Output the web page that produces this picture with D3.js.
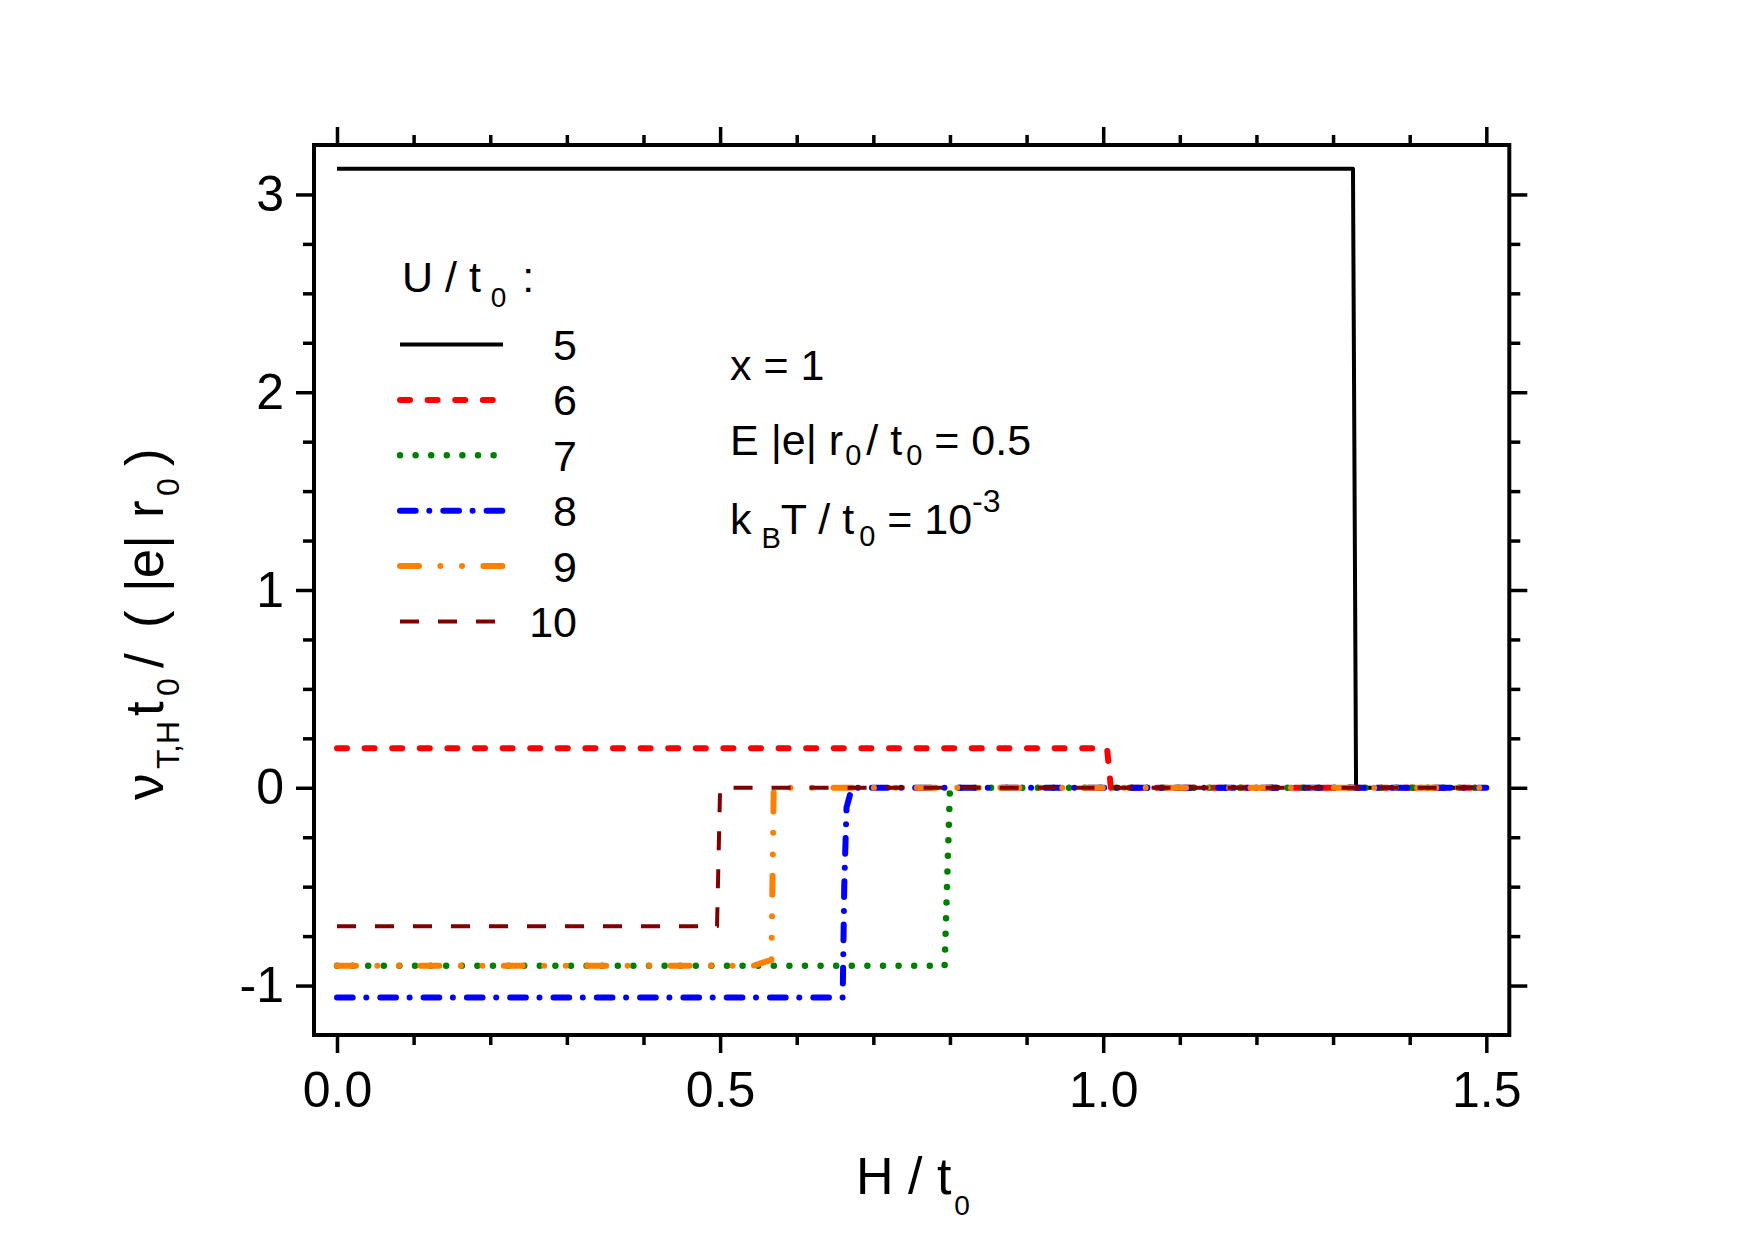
<!DOCTYPE html>
<html>
<head>
<meta charset="utf-8">
<script src="https://cdn.jsdelivr.net/npm/d3@7"></script>
<style>
  html, body { margin: 0; padding: 0; background: #fff; }
  svg { display: block; }
  text { font-family: "Liberation Sans", Arial, sans-serif; fill: #000; }
</style>
</head>
<body>
<svg id="chart" width="1755" height="1242"></svg>
<script>
// ---------------- data ----------------
const seriesLabels = ["5", "6", "7", "8", "9", "10"];
const h5  = [0, 1.326, 1.330, 1.5];
const v5  = [3.13, 3.13, 0, 0];
const h6  = [0, 1.005, 1.010, 1.5];
const v6  = [0.2, 0.2, 0, 0];
const h7  = [0, 0.793, 0.800, 1.5];
const v7  = [-0.9, -0.9, 0, 0];
const h8  = [0, 0.660, 0.662, 0.665, 0.672, 1.5];
const v8  = [-1.06, -1.06, -0.5, -0.1, 0, 0];
const h9  = [0, 0.543, 0.567, 0.570, 1.5];
const v9  = [-0.9, -0.9, -0.87, 0, 0];
const h10 = [0, 0.496, 0.500, 1.5];
const v10 = [-0.7, -0.7, 0, 0];
const xMajorTicks = [0, 0.5, 1.0, 1.5];
const xTickLabels = ["0.0", "0.5", "1.0", "1.5"];
const yMajorTicks = [-1, 0, 1, 2, 3];
const yTickLabels = ["-1", "0", "1", "2", "3"];

// ---------------- styles ----------------
const styles = [
  { color: "#000000", width: 4, dash: null, cap: "butt" },
  { color: "#ff0000", width: 6, dash: "10 17.6", cap: "round" },
  { color: "#008000", width: 6.5, dash: "0 15.6", cap: "round" },
  { color: "#0000ff", width: 6, dash: "15.7 13.6 0 14", cap: "round" },
  { color: "#ff8000", width: 6, dash: "19 21.4 0 21.6 0 21.4", cap: "round" },
  { color: "#800000", width: 4, dash: "19 19", cap: "butt" }
];
const seriesH = [h5, h6, h7, h8, h9, h10];
const seriesV = [v5, v6, v7, v8, v9, v10];

const svg = d3.select("#chart");
const L = 314, R = 1509.3, T = 145, B = 1035;
const x = d3.scaleLinear().domain([-0.03, 1.53]).range([L, R]);
const y = d3.scaleLinear().domain([-1.25, 3.25]).range([B, T]);

const xMinor = d3.range(0, 1.5001, 0.1).map(v => +v.toFixed(2)).filter(v => !xMajorTicks.some(m => Math.abs(m - v) < 1e-9));
const yMinor = d3.range(-1, 3.0001, 0.25).map(v => +v.toFixed(2)).filter(v => !yMajorTicks.some(m => Math.abs(m - v) < 1e-9));

// ---------------- lines ----------------
const line = d3.line().x(d => x(d[0])).y(d => y(d[1]));
const plot = svg.append("g");
seriesH.forEach((hs, i) => {
  const pts = hs.map((h, j) => [h, seriesV[i][j]]);
  const st = styles[i];
  plot.append("path")
    .attr("d", line(pts))
    .attr("fill", "none")
    .attr("stroke", st.color)
    .attr("stroke-width", st.width)
    .attr("stroke-linecap", st.cap)
    .attr("stroke-linejoin", "round")
    .attr("stroke-dasharray", st.dash);
});

// ---------------- axes ----------------
function styleAxis(g, fontSize) {
  g.select(".domain").remove();
  g.selectAll(".tick line").attr("stroke", "#000").attr("stroke-width", 3.5);
  g.selectAll(".tick text").attr("font-size", fontSize).attr("fill", "#000")
    .style("font-family", '"Liberation Sans", Arial, sans-serif');
}
const fmtX = d => xTickLabels[xMajorTicks.indexOf(d)];
const fmtY = d => yTickLabels[yMajorTicks.indexOf(d)];

svg.append("g").attr("transform", `translate(0,${B})`)
  .call(d3.axisBottom(x).tickValues(xMajorTicks).tickFormat(fmtX).tickSize(18).tickPadding(18))
  .call(g => styleAxis(g, 50));
svg.append("g").attr("transform", `translate(0,${B})`)
  .call(d3.axisBottom(x).tickValues(xMinor).tickFormat("").tickSize(10))
  .call(g => styleAxis(g, 50));
svg.append("g").attr("transform", `translate(0,${T})`)
  .call(d3.axisTop(x).tickValues(xMajorTicks).tickFormat("").tickSize(18))
  .call(g => styleAxis(g, 50));
svg.append("g").attr("transform", `translate(0,${T})`)
  .call(d3.axisTop(x).tickValues(xMinor).tickFormat("").tickSize(10))
  .call(g => styleAxis(g, 50));

svg.append("g").attr("transform", `translate(${L},0)`)
  .call(d3.axisLeft(y).tickValues(yMajorTicks).tickFormat(fmtY).tickSize(18).tickPadding(12))
  .call(g => styleAxis(g, 50));
svg.append("g").attr("transform", `translate(${L},0)`)
  .call(d3.axisLeft(y).tickValues(yMinor).tickFormat("").tickSize(11))
  .call(g => styleAxis(g, 50));
svg.append("g").attr("transform", `translate(${R},0)`)
  .call(d3.axisRight(y).tickValues(yMajorTicks).tickFormat("").tickSize(18))
  .call(g => styleAxis(g, 50));
svg.append("g").attr("transform", `translate(${R},0)`)
  .call(d3.axisRight(y).tickValues(yMinor).tickFormat("").tickSize(11))
  .call(g => styleAxis(g, 50));

// frame
svg.append("rect")
  .attr("x", L).attr("y", T).attr("width", R - L).attr("height", B - T)
  .attr("fill", "none").attr("stroke", "#000").attr("stroke-width", 4);

// ---------------- axis titles ----------------
const xt = svg.append("text").attr("x", 856).attr("y", 1194).attr("font-size", 52);
xt.append("tspan").text("H / t");
xt.append("tspan").attr("font-size", 28).attr("dy", 21).attr("dx", 3).text("0");

const yl = svg.append("g").attr("transform", "translate(163,800) rotate(-90)");
const ylPieces = [
  { t: "\u03BD", x: 0, sub: false },
  { t: "T,H", x: 31, sub: true },
  { t: "t", x: 84, sub: false },
  { t: "0", x: 104, sub: true },
  { t: "/", x: 132, sub: false },
  { t: "(", x: 172, sub: false },
  { t: "|e|", x: 208, sub: false },
  { t: "r", x: 282, sub: false },
  { t: "0", x: 304, sub: true },
  { t: ")", x: 334, sub: false }
];
ylPieces.forEach(p => {
  yl.append("text")
    .attr("x", p.x)
    .attr("y", p.sub ? 16 : 0)
    .attr("font-size", p.sub ? 32 : 53)
    .text(p.t);
});

// ---------------- legend ----------------
const lg = svg.append("g");
const hdr = lg.append("text").attr("x", 402).attr("y", 292).attr("font-size", 43);
hdr.append("tspan").text("U / t");
hdr.append("tspan").attr("font-size", 28).attr("dy", 15).attr("dx", 10).text("0");
hdr.append("tspan").attr("dy", -15).attr("dx", 4).text(" :");

seriesLabels.forEach((lab, i) => {
  const yy = 344.5 + i * 55.4;
  const st = styles[i];
  lg.append("line")
    .attr("x1", 400).attr("x2", 503).attr("y1", yy).attr("y2", yy)
    .attr("stroke", st.color).attr("stroke-width", st.width)
    .attr("stroke-linecap", st.cap).attr("stroke-dasharray", st.dash);
  lg.append("text").attr("x", 577).attr("y", yy + 15.5)
    .attr("font-size", 43).attr("text-anchor", "end").text(lab);
});

// ---------------- annotations ----------------
const a1 = svg.append("text").attr("x", 730).attr("y", 380).attr("font-size", 43);
a1.text("x = 1");

const a2 = svg.append("text").attr("x", 730).attr("y", 455).attr("font-size", 43);
a2.append("tspan").text("E |e| r");
a2.append("tspan").attr("font-size", 29).attr("dy", 10).attr("dx", 2).text("0");
a2.append("tspan").attr("dy", -10).attr("dx", 5).text("/ t");
a2.append("tspan").attr("font-size", 29).attr("dy", 10).attr("dx", 4).text("0");
a2.append("tspan").attr("dy", -10).text(" = 0.5");

const a3 = svg.append("text").attr("x", 730).attr("y", 534).attr("font-size", 43);
a3.append("tspan").text("k");
a3.append("tspan").attr("font-size", 29).attr("dy", 14).attr("dx", 10).text("B");
a3.append("tspan").attr("dy", -14).text("T / t");
a3.append("tspan").attr("font-size", 29).attr("dy", 12).attr("dx", 5).text("0");
a3.append("tspan").attr("dy", -12).text(" = 10");
a3.append("tspan").attr("font-size", 32).attr("dy", -22).text("-3");
</script>
</body>
</html>
